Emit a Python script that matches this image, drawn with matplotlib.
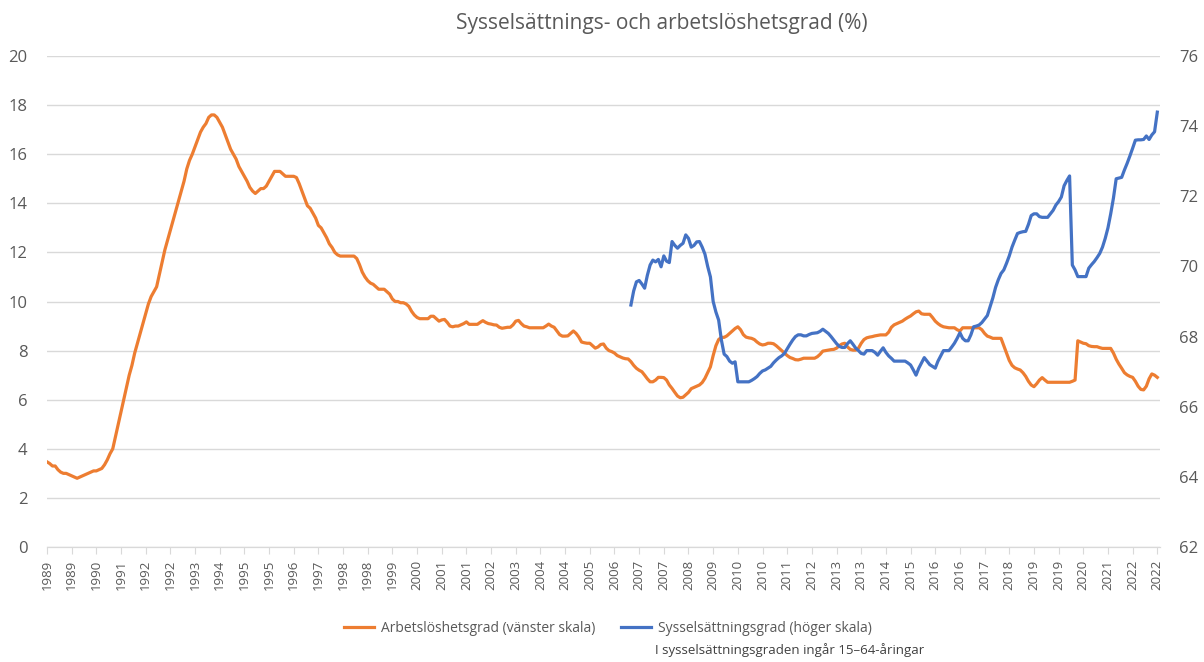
import numpy as np
import pandas as pd
import matplotlib
matplotlib.use('Agg')
import matplotlib.pyplot as plt
from matplotlib.lines import Line2D

plt.rcParams['font.family'] = ['Open Sans', 'DejaVu Sans']

# monthly data, 1989-01 .. 2022-10
first_month = '1989-01'
# Arbetslöshetsgrad (%), one row per year
unemployment = [
    3.47, 3.4, 3.3, 3.3, 3.15, 3.05, 3.0, 3.0, 2.95, 2.9, 2.85, 2.8,            # 1989
    2.85, 2.9, 2.95, 3.0, 3.05, 3.1, 3.1, 3.15, 3.2, 3.35, 3.55, 3.8,           # 1990
    4.0, 4.5, 5.0, 5.5, 6.0, 6.5, 7.0, 7.4, 7.9, 8.3, 8.7, 9.1,                 # 1991
    9.5, 9.9, 10.2, 10.4, 10.6, 11.1, 11.6, 12.1, 12.5, 12.9, 13.3, 13.7,       # 1992
    14.1, 14.5, 14.9, 15.4, 15.75, 16.0, 16.3, 16.6, 16.9, 17.1, 17.25, 17.5,   # 1993
    17.6, 17.6, 17.5, 17.3, 17.1, 16.8, 16.5, 16.2, 16.0, 15.8, 15.5, 15.3,     # 1994
    15.1, 14.9, 14.65, 14.5, 14.4, 14.5, 14.6, 14.6, 14.7, 14.9, 15.1, 15.3,    # 1995
    15.3, 15.3, 15.2, 15.1, 15.1, 15.1, 15.1, 15.05, 14.8, 14.5, 14.2, 13.9,    # 1996
    13.8, 13.6, 13.4, 13.1, 13.0, 12.8, 12.6, 12.35, 12.2, 12.0, 11.9, 11.85,   # 1997
    11.85, 11.85, 11.85, 11.85, 11.85, 11.75, 11.5, 11.2, 11.0, 10.85, 10.75, 10.7,  # 1998
    10.6, 10.5, 10.5, 10.5, 10.4, 10.3, 10.1, 10.0, 10.0, 9.95, 9.95, 9.9,      # 1999
    9.8, 9.6, 9.45, 9.35, 9.3, 9.3, 9.3, 9.3, 9.4, 9.4, 9.3, 9.2,               # 2000
    9.25, 9.27, 9.15, 9.0, 8.97, 9.0, 9.0, 9.05, 9.1, 9.17, 9.07, 9.07,         # 2001
    9.07, 9.07, 9.15, 9.22, 9.15, 9.1, 9.08, 9.05, 9.04, 8.95, 8.91, 8.93,      # 2002
    8.95, 8.95, 9.05, 9.2, 9.23, 9.1, 9.0, 8.97, 8.93, 8.93, 8.93, 8.93,        # 2003
    8.93, 8.93, 9.0, 9.08, 9.0, 8.95, 8.8, 8.65, 8.59, 8.59, 8.6, 8.7,          # 2004
    8.8, 8.7, 8.55, 8.35, 8.32, 8.3, 8.3, 8.2, 8.1, 8.15, 8.25, 8.27,           # 2005
    8.1, 8.0, 7.96, 7.9, 7.8, 7.75, 7.7, 7.67, 7.66, 7.55, 7.4, 7.28,           # 2006
    7.2, 7.14, 7.0, 6.85, 6.73, 6.73, 6.8, 6.91, 6.91, 6.9, 6.8, 6.6,           # 2007
    6.46, 6.3, 6.15, 6.08, 6.1, 6.2, 6.3, 6.45, 6.5, 6.55, 6.6, 6.7,            # 2008
    6.87, 7.1, 7.34, 7.8, 8.2, 8.45, 8.54, 8.54, 8.6, 8.7, 8.8, 8.9,            # 2009
    8.97, 8.85, 8.65, 8.55, 8.52, 8.5, 8.45, 8.35, 8.27, 8.23, 8.25, 8.3,       # 2010
    8.3, 8.28, 8.2, 8.1, 8.0, 7.9, 7.8, 7.72, 7.68, 7.63, 7.62, 7.65,           # 2011
    7.69, 7.69, 7.69, 7.69, 7.69, 7.75, 7.85, 7.98, 8.0, 8.02, 8.04, 8.05,      # 2012
    8.1, 8.2, 8.27, 8.3, 8.15, 8.05, 8.02, 8.02, 8.1, 8.3, 8.45, 8.52,          # 2013
    8.55, 8.57, 8.6, 8.62, 8.64, 8.64, 8.64, 8.75, 8.95, 9.05, 9.1, 9.15,       # 2014
    9.2, 9.28, 9.35, 9.41, 9.5, 9.58, 9.61, 9.5, 9.48, 9.48, 9.48, 9.35,        # 2015
    9.2, 9.1, 9.02, 8.97, 8.95, 8.93, 8.93, 8.93, 8.85, 8.8, 8.93, 8.93,        # 2016
    8.93, 8.93, 8.93, 8.93, 8.93, 8.85, 8.7, 8.59, 8.55, 8.5, 8.5, 8.5,         # 2017
    8.5, 8.2, 7.9, 7.6, 7.4, 7.3, 7.25, 7.21, 7.1, 6.95, 6.75, 6.6,             # 2018
    6.53, 6.65, 6.8, 6.9, 6.8, 6.71, 6.71, 6.71, 6.71, 6.71, 6.71, 6.71,        # 2019
    6.71, 6.71, 6.75, 6.8, 8.4, 8.35, 8.3, 8.28, 8.2, 8.17, 8.16, 8.16,         # 2020
    8.12, 8.09, 8.09, 8.09, 8.09, 7.9, 7.65, 7.45, 7.28, 7.1, 7.01, 6.95,       # 2021
    6.91, 6.75, 6.55, 6.42, 6.4, 6.55, 6.85, 7.05, 7.0, 6.91,                   # 2022
]

# Sysselsättningsgrad 15-64 (%), starts 2006-10
employment_start = '2006-10'
employment = [
    68.9, 69.3, 69.56,                                                          # 2006
    69.6, 69.5, 69.38, 69.75, 70.04, 70.18, 70.13, 70.2, 69.99, 70.3, 70.15, 70.11,   # 2007
    70.71, 70.6, 70.52, 70.6, 70.66, 70.9, 70.8, 70.55, 70.6, 70.7, 70.71, 70.55,     # 2008
    70.35, 70.0, 69.7, 69.0, 68.7, 68.47, 67.9, 67.5, 67.43, 67.3, 67.24, 67.28,      # 2009
    66.71, 66.71, 66.71, 66.71, 66.71, 66.75, 66.8, 66.86, 66.95, 67.02, 67.05, 67.1, # 2010
    67.15, 67.25, 67.33, 67.4, 67.45, 67.52, 67.65, 67.78, 67.9, 68.0, 68.05, 68.05,  # 2011
    68.02, 68.02, 68.06, 68.09, 68.1, 68.11, 68.15, 68.21, 68.15, 68.09, 68.0, 67.9,  # 2012
    67.8, 67.72, 67.69, 67.69, 67.8, 67.88, 67.78, 67.67, 67.6, 67.52, 67.5, 67.6,    # 2013
    67.6, 67.6, 67.55, 67.47, 67.58, 67.68, 67.55, 67.45, 67.38, 67.3, 67.3, 67.3,    # 2014
    67.3, 67.3, 67.25, 67.19, 67.05, 66.9, 67.1, 67.25, 67.4, 67.3, 67.2, 67.15,      # 2015
    67.1, 67.3, 67.45, 67.6, 67.6, 67.6, 67.7, 67.81, 67.95, 68.11, 67.95, 67.88,     # 2016
    67.88, 68.05, 68.28, 68.3, 68.33, 68.4, 68.5, 68.6, 68.85, 69.1, 69.4, 69.62,     # 2017
    69.8, 69.9, 70.09, 70.3, 70.55, 70.75, 70.94, 70.97, 70.99, 71.0, 71.2, 71.45,    # 2018
    71.5, 71.5, 71.42, 71.4, 71.4, 71.4, 71.5, 71.6, 71.75, 71.85, 71.98, 72.3,       # 2019
    72.45, 72.58, 70.04, 69.9, 69.71, 69.71, 69.71, 69.71, 69.95, 70.05, 70.14, 70.25,# 2020
    70.37, 70.55, 70.8, 71.1, 71.5, 71.95, 72.5, 72.52, 72.54, 72.75, 72.94, 73.15,   # 2021
    73.37, 73.6, 73.61, 73.61, 73.62, 73.72, 73.62, 73.75, 73.84, 74.4,               # 2022
]

label_every = 9  # months between category labels

months = pd.date_range(first_month, periods=len(unemployment), freq='MS')
pos = np.arange(len(months))
emp_offset = months.get_loc(pd.Timestamp(employment_start))
emp_pos = pos[emp_offset:emp_offset + len(employment)]

ORANGE = '#ED7D31'
BLUE = '#4472C4'
GRAY = '#595959'
GRID = '#D9D9D9'

fig = plt.figure(figsize=(12.04, 6.62), dpi=100)
ax = fig.add_axes([0.039, 0.1737, 0.9245, 0.7417])
ax2 = ax.twinx()

ax.plot(pos, unemployment, color=ORANGE, lw=2.3, solid_joinstyle='round', zorder=3)
ax2.plot(emp_pos, employment, color=BLUE, lw=2.3, solid_joinstyle='round', zorder=3)

ax.set_ylim(0, 20)
ax.set_yticks(np.arange(0, 21, 2))
ax2.set_ylim(62, 76)
ax2.set_yticks(np.arange(62, 77, 2))
ax.set_xlim(0, len(months))

ax.grid(axis='y', color=GRID, lw=1)
ax.set_axisbelow(True)
tick_pos = pos[::label_every]
ax.set_xticks(tick_pos)
ax.set_xticklabels([str(m.year) for m in months[::label_every]], rotation=90)

for a in (ax, ax2):
    for s in ('top', 'left', 'right'):
        a.spines[s].set_visible(False)
    a.spines['bottom'].set_color(GRID)
ax.tick_params(axis='x', colors=GRAY, labelsize=9.5, length=5, color=GRID, pad=4)
ax.tick_params(axis='y', colors=GRAY, labelsize=12, length=0, pad=14)
ax2.tick_params(axis='y', colors=GRAY, labelsize=12, length=0, pad=14)

fig.text(0.55, 0.965, 'Sysselsättnings- och arbetslöshetsgrad (%)', ha='center', va='center',
         fontsize=15, color=GRAY)

handles = [Line2D([], [], color=ORANGE, lw=2.3), Line2D([], [], color=BLUE, lw=2.3)]
fig.legend(handles, ['Arbetslöshetsgrad (vänster skala)', 'Sysselsättningsgrad (höger skala)'],
           loc='center', bbox_to_anchor=(0.505, 0.051), ncol=2, frameon=False,
           fontsize=10, labelcolor=GRAY, handlelength=2.2, handletextpad=0.5, columnspacing=1.8)
fig.text(0.544, 0.018, 'I sysselsättningsgraden ingår 15–64-åringar', ha='left', va='center',
         fontsize=9.5, color='#404040')

fig.savefig('out.png', dpi=100)
